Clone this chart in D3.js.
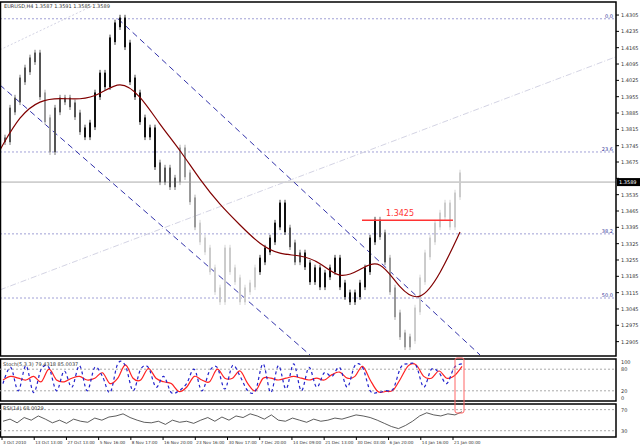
<!DOCTYPE html><html><head><meta charset="utf-8">
<script src="https://cdn.jsdelivr.net/npm/d3@7"></script>
<style>body{margin:0;background:#fff}text{font-family:"DejaVu Sans",sans-serif}</style></head><body>
<svg id="c" width="640" height="445"></svg>
<script>
const closes=[1.3770,1.3898,1.3941,1.4027,1.4070,1.4113,1.4134,1.3963,1.3856,1.3727,1.3898,1.3941,1.3941,1.3920,1.3877,1.3813,1.3791,1.3834,1.3963,1.4048,1.4006,1.4199,1.4263,1.4284,1.4177,1.4027,1.3963,1.3856,1.3791,1.3813,1.3663,1.3598,1.3641,1.3577,1.3598,1.3727,1.3620,1.3513,1.3405,1.3341,1.3298,1.3213,1.3127,1.3084,1.3298,1.3213,1.3170,1.3084,1.3127,1.3148,1.3213,1.3255,1.3298,1.3341,1.3405,1.3491,1.3384,1.3320,1.3255,1.3277,1.3234,1.3170,1.3213,1.3148,1.3191,1.3213,1.3255,1.3148,1.3106,1.3084,1.3106,1.3148,1.3213,1.3341,1.3418,1.3363,1.3255,1.3127,1.3020,1.2934,1.2891,1.2917,1.3041,1.3170,1.3277,1.3341,1.3405,1.3448,1.3491,1.3405,1.3534,1.3620];
const shade=[1,1,1,1,1,1,1,1,2,2,1,1,1,1,1,1,0,0,0,0,0,0,0,0,0,0,0,0,0,0,0,1,1,1,1,2,2,2,2,3,3,3,3,3,3,3,3,3,3,3,3,0,0,0,0,0,0,1,1,1,0,0,0,0,0,0,0,0,0,0,0,0,0,0,0,1,1,2,2,2,2,2,3,3,3,3,3,3,3,3,3,3];
const maVals=[1.3727,1.3877,1.3941,1.3950,1.3941,1.3963,1.4027,1.3963,1.3834,1.3727,1.3598,1.3491,1.3405,1.3320,1.3277,1.3277,1.3247,1.3170,1.3213,1.3264,1.3127,1.3071,1.3191,1.3375];
const priceTicks=[1.4305,1.4235,1.4165,1.4095,1.4025,1.3955,1.3885,1.3815,1.3745,1.3675,1.3605,1.3535,1.3465,1.3395,1.3325,1.3255,1.3185,1.3115,1.3045,1.2975,1.2905];
const fibLevels=[["0.0",1.4289],["23.6",1.3718],["38.2",1.3367],["50.0",1.3092]];
const currentPrice=1.3589, resistance=1.3425;
const dateLabels=["3 Oct 2010","13 Oct 13:00","27 Oct 13:00","5 Nov 16:00","8 Nov 17:00","16 Nov 20:00","23 Nov 16:00","30 Nov 17:00","7 Dec 20:00","14 Dec 09:00","21 Dec 13:00","30 Dec 03:00","6 Jan 20:00","14 Jan 16:00","21 Jan 00:00"];
const stochK=[40,85,20,90,15,80,85,20,75,30,90,20,85,60,15,95,90,20,80,85,30,60,15,20,40,80,20,75,85,25,90,60,20,20,95,15,90,25,95,20,85,30,70,60,85,30,90,85,20,15,20,25,85,95,90,30,80,70,40,85,95];
const stochD=[50,60,55,50,60,45,80,50,45,55,60,50,55,70,40,55,92,55,50,82,55,45,40,18,30,60,50,45,80,55,55,75,40,20,55,55,50,55,60,55,50,55,50,65,72,55,60,88,50,18,18,22,55,90,92,60,55,75,55,62,88];
const rsi=[48,52,45,55,50,58,52,45,50,44,52,48,46,54,50,56,58,62,55,50,46,45,48,42,50,46,48,44,50,55,48,56,50,58,55,62,58,52,60,50,48,54,50,46,52,48,50,54,52,56,60,58,55,50,44,38,34,40,48,58,64,60,58,62,60,66];
const stochCur=[79.4318,85.0037], rsiCur=68.0029;

const svg=d3.select("#c");
const L=0,R=616,T=2,B=356;
const x=d3.scaleLinear().domain([0,closes.length-1]).range([5,460]);
const y=d3.scaleLinear().domain([1.3465,1.3465+0.007]).range([211,211-16.33]);
const g=svg.append("g");
fibLevels.forEach(([l,v])=>{g.append("line").attr("x1",L).attr("x2",R).attr("y1",y(v)).attr("y2",y(v)).attr("stroke","#8888cc").attr("stroke-dasharray","2,2").attr("stroke-width",0.8);
 g.append("text").attr("x",R-3).attr("y",y(v)-1).attr("text-anchor","end").attr("font-size",5).attr("fill","#333399").text(l);});
g.append("line").attr("x1",L).attr("x2",R).attr("y1",y(currentPrice)).attr("y2",y(currentPrice)).attr("stroke","#aaa").attr("stroke-width",1);
const tl=(a,b,c,d,col,dash,w)=>g.append("line").attr("x1",x(a)).attr("y1",y(b)).attr("x2",x(c)).attr("y2",y(d)).attr("stroke",col).attr("stroke-dasharray",dash).attr("stroke-width",w);
tl(-1,1.3127,122.2,1.4126,"#c8c8dc","6,2,1,2",0.8);
tl(-1,1.4156,20,1.4370,"#c8c8dc","2,2",0.8);
tl(22.6,1.4289,95,1.2848,"#3333aa","6,4",1);
tl(-1,1.4005,61,1.2848,"#3333aa","6,4",1);
const cols=["#111","#555","#999","#ccc"];
closes.forEach((c,i)=>{const p=i?closes[i-1]:c;const hi=Math.max(c,p)+0.0010,lo=Math.min(c,p)-0.0010;
 g.append("rect").attr("x",x(i)-1).attr("width",2).attr("y",y(hi)).attr("height",y(lo)-y(hi)).attr("fill",cols[shade[i]]);
 g.append("line").attr("x1",x(i)).attr("x2",x(i)).attr("y1",y(hi+0.0012)).attr("y2",y(lo-0.0012)).attr("stroke",cols[shade[i]]).attr("stroke-width",0.8);});
const xm=d3.scaleLinear().domain([0,maVals.length-1]).range([0,460]);
g.append("path").attr("d",d3.line().curve(d3.curveBasis).x((d,i)=>xm(i)).y(d=>y(d))(maVals)).attr("fill","none").attr("stroke","#800000").attr("stroke-width",1.2);
g.append("line").attr("x1",362).attr("x2",453).attr("y1",y(resistance)).attr("y2",y(resistance)).attr("stroke","#ff3333").attr("stroke-width",1.5);
g.append("text").attr("x",400).attr("y",y(resistance)-4).attr("text-anchor","middle").attr("font-size",8).attr("fill","#ff3333").text(resistance.toFixed(4));
g.append("text").attr("x",4).attr("y",8).attr("font-size",5).attr("fill","#333").text("EURUSD,H4  1.3587 1.3591 1.3585 1.3589");
priceTicks.forEach(v=>{g.append("line").attr("x1",R).attr("x2",R+3).attr("y1",y(v)).attr("y2",y(v)).attr("stroke","#000");
 if(Math.abs(y(v)-y(currentPrice))>7) g.append("text").attr("x",R+5).attr("y",y(v)+2).attr("font-size",5).attr("fill","#333").text(v.toFixed(4));});
g.append("rect").attr("x",R+1).attr("y",y(currentPrice)-4).attr("width",23).attr("height",8).attr("fill","#000");
g.append("text").attr("x",R+3).attr("y",y(currentPrice)+2).attr("font-size",5).attr("fill","#fff").text(currentPrice.toFixed(4));
const panel=(t,b)=>svg.append("rect").attr("x",L+0.5).attr("y",t).attr("width",R-0.5).attr("height",b-t).attr("fill","none").attr("stroke","#000").attr("stroke-width",1.5);
panel(T,B);panel(359,401);panel(404,437);
const xs=d3.scaleLinear().domain([0,stochK.length-1]).range([3,462]);
const ys=d3.scaleLinear().domain([0,100]).range([398,362]);
[80,20].forEach(v=>svg.append("line").attr("x1",L).attr("x2",R).attr("y1",ys(v)).attr("y2",ys(v)).attr("stroke","#aaa").attr("stroke-dasharray","2,2"));
svg.append("path").attr("d",d3.line().curve(d3.curveCardinal).x((d,i)=>xs(i)).y(ys)(stochD)).attr("fill","none").attr("stroke","#ff2222").attr("stroke-width",1.2);
svg.append("path").attr("d",d3.line().curve(d3.curveCardinal).x((d,i)=>xs(i)).y(ys)(stochK)).attr("fill","none").attr("stroke","#2222cc").attr("stroke-width",1.2).attr("stroke-dasharray","3,3");
[100,80,20,0].forEach(v=>svg.append("text").attr("x",R+5).attr("y",ys(v)+2).attr("font-size",5).attr("fill","#333").text(v));
svg.append("text").attr("x",3).attr("y",366).attr("font-size",5).attr("fill","#333").text(`Stoch(5,3,3) ${stochCur[0]} ${stochCur[1]}`);
const xr=d3.scaleLinear().domain([0,rsi.length-1]).range([3,462]);
const yr=d3.scaleLinear().domain([20,75]).range([436,407]);
[70,30].forEach(v=>svg.append("line").attr("x1",L).attr("x2",R).attr("y1",yr(v)).attr("y2",yr(v)).attr("stroke","#aaa").attr("stroke-dasharray","2,2"));
svg.append("path").attr("d",d3.line().x((d,i)=>xr(i)).y(yr)(rsi)).attr("fill","none").attr("stroke","#333").attr("stroke-width",0.8);
[70,30].forEach(v=>svg.append("text").attr("x",R+5).attr("y",yr(v)+2).attr("font-size",5).attr("fill","#333").text(v));
svg.append("text").attr("x",3).attr("y",410).attr("font-size",5).attr("fill","#333").text(`RSI(14) ${rsiCur.toFixed(4)}`);
svg.append("rect").attr("x",455).attr("y",358).attr("width",9).attr("height",55).attr("rx",2).attr("fill","none").attr("stroke","#ff6666");
const xd=d3.scaleLinear().domain([0,dateLabels.length-1]).range([2,453]);
dateLabels.forEach((d,i)=>{svg.append("line").attr("x1",xd(i)).attr("x2",xd(i)).attr("y1",437).attr("y2",440).attr("stroke","#000");
 svg.append("text").attr("x",xd(i)+1).attr("y",444).attr("font-size",4.2).attr("fill","#333").text(d);});
</script></body></html>
